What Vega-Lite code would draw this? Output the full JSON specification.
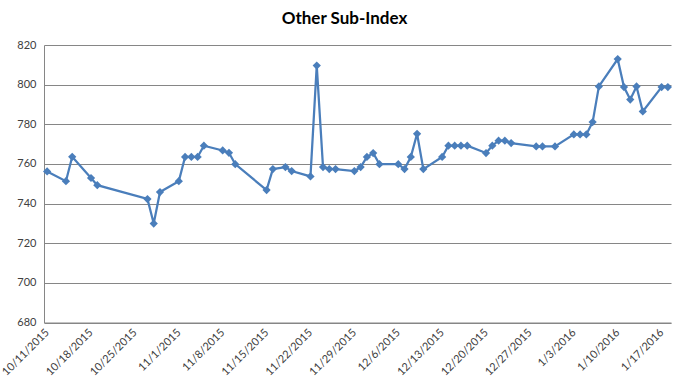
{
  "$schema": "https://vega.github.io/schema/vega-lite/v6.json",
  "autosize": {"type": "none"},
  "width": 627,
  "height": 277.5,
  "padding": {"left": 44, "top": 45, "right": 17, "bottom": 62.5},
  "background": "white",
  "config": {"view": {"stroke": null}, "font": "Lato"},
  "title": {"text": "Other Sub-Index", "font": "Lato", "fontSize": 17, "fontWeight": "bold", "color": "#000000", "anchor": "middle", "dx": -13, "offset": 11},
  "data": {"values": [
    {"date": "2015-10-11", "value": 756.2},
    {"date": "2015-10-14", "value": 751.3},
    {"date": "2015-10-15", "value": 763.6},
    {"date": "2015-10-18", "value": 752.9},
    {"date": "2015-10-19", "value": 749.3},
    {"date": "2015-10-27", "value": 742.3},
    {"date": "2015-10-28", "value": 729.9},
    {"date": "2015-10-29", "value": 745.8},
    {"date": "2015-11-01", "value": 751.3},
    {"date": "2015-11-02", "value": 763.5},
    {"date": "2015-11-03", "value": 763.5},
    {"date": "2015-11-04", "value": 763.5},
    {"date": "2015-11-05", "value": 769.2},
    {"date": "2015-11-08", "value": 766.8},
    {"date": "2015-11-09", "value": 765.6},
    {"date": "2015-11-10", "value": 759.9},
    {"date": "2015-11-15", "value": 746.8},
    {"date": "2015-11-16", "value": 757.4},
    {"date": "2015-11-18", "value": 758.4},
    {"date": "2015-11-19", "value": 756.4},
    {"date": "2015-11-22", "value": 753.7},
    {"date": "2015-11-23", "value": 809.6},
    {"date": "2015-11-24", "value": 758.4},
    {"date": "2015-11-25", "value": 757.4},
    {"date": "2015-11-26", "value": 757.4},
    {"date": "2015-11-29", "value": 756.4},
    {"date": "2015-11-30", "value": 758.4},
    {"date": "2015-12-01", "value": 763.5},
    {"date": "2015-12-02", "value": 765.5},
    {"date": "2015-12-03", "value": 759.9},
    {"date": "2015-12-06", "value": 759.9},
    {"date": "2015-12-07", "value": 757.4},
    {"date": "2015-12-08", "value": 763.5},
    {"date": "2015-12-09", "value": 775.2},
    {"date": "2015-12-10", "value": 757.4},
    {"date": "2015-12-13", "value": 763.5},
    {"date": "2015-12-14", "value": 769.2},
    {"date": "2015-12-15", "value": 769.2},
    {"date": "2015-12-16", "value": 769.2},
    {"date": "2015-12-17", "value": 769.2},
    {"date": "2015-12-20", "value": 765.5},
    {"date": "2015-12-21", "value": 769.2},
    {"date": "2015-12-22", "value": 771.7},
    {"date": "2015-12-23", "value": 771.7},
    {"date": "2015-12-24", "value": 770.5},
    {"date": "2015-12-28", "value": 768.8},
    {"date": "2015-12-29", "value": 768.8},
    {"date": "2015-12-31", "value": 768.8},
    {"date": "2016-01-03", "value": 774.9},
    {"date": "2016-01-04", "value": 774.9},
    {"date": "2016-01-05", "value": 774.9},
    {"date": "2016-01-06", "value": 781.1},
    {"date": "2016-01-07", "value": 799.1},
    {"date": "2016-01-10", "value": 812.9},
    {"date": "2016-01-11", "value": 798.8},
    {"date": "2016-01-12", "value": 792.5},
    {"date": "2016-01-13", "value": 799.1},
    {"date": "2016-01-14", "value": 786.5},
    {"date": "2016-01-17", "value": 798.8},
    {"date": "2016-01-18", "value": 798.8}
  ]},
  "mark": {"type": "line", "color": "#4A7EBB", "strokeWidth": 2.25, "point": {"shape": "diamond", "size": 68, "filled": true, "color": "#4A7EBB", "opacity": 1}},
  "encoding": {
    "x": {
      "field": "date", "type": "temporal", "title": null,
      "scale": {"type": "utc", "domain": [
        {"year": 2015, "month": 10, "date": 10, "hours": 12, "utc": true},
        {"year": 2016, "month": 1, "date": 18, "hours": 12, "utc": true}
      ]},
      "axis": {
        "values": [
          {"year": 2015, "month": 10, "date": 11, "utc": true},
          {"year": 2015, "month": 10, "date": 18, "utc": true},
          {"year": 2015, "month": 10, "date": 25, "utc": true},
          {"year": 2015, "month": 11, "date": 1, "utc": true},
          {"year": 2015, "month": 11, "date": 8, "utc": true},
          {"year": 2015, "month": 11, "date": 15, "utc": true},
          {"year": 2015, "month": 11, "date": 22, "utc": true},
          {"year": 2015, "month": 11, "date": 29, "utc": true},
          {"year": 2015, "month": 12, "date": 6, "utc": true},
          {"year": 2015, "month": 12, "date": 13, "utc": true},
          {"year": 2015, "month": 12, "date": 20, "utc": true},
          {"year": 2015, "month": 12, "date": 27, "utc": true},
          {"year": 2016, "month": 1, "date": 3, "utc": true},
          {"year": 2016, "month": 1, "date": 10, "utc": true},
          {"year": 2016, "month": 1, "date": 17, "utc": true}
        ],
        "format": "%-m/%-d/%Y",
        "labelAngle": -45,
        "labelAlign": "right",
        "labelBaseline": "middle",
        "labelFontSize": 11,
        "labelColor": "#404040",
        "labelPadding": 8,
        "labelOverlap": false,
        "labelBound": false,
        "labelFlush": false,
        "ticks": false,
        "grid": false,
        "domain": true,
        "domainColor": "#868686",
        "domainWidth": 1
      }
    },
    "y": {
      "field": "value", "type": "quantitative", "title": null,
      "scale": {"domain": [680, 820], "nice": false, "zero": false},
      "axis": {
        "values": [680, 700, 720, 740, 760, 780, 800, 820],
        "labelFontSize": 11,
        "labelColor": "#404040",
        "labelPadding": 8,
        "ticks": false,
        "grid": true,
        "gridColor": "#868686",
        "gridWidth": 1,
        "domain": true,
        "domainColor": "#868686",
        "domainWidth": 1
      }
    }
  }
}
